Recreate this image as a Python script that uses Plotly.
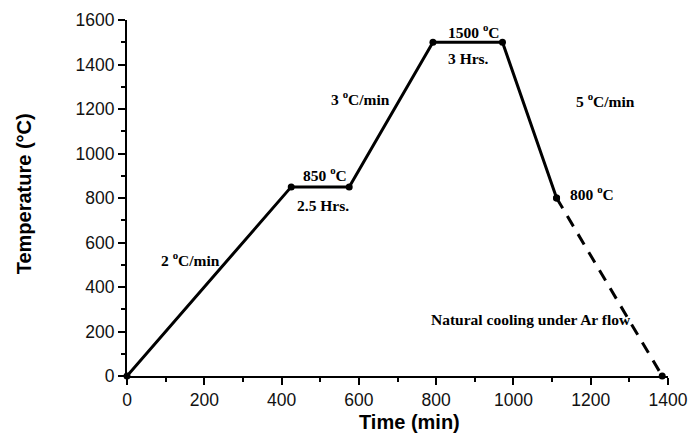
import plotly.graph_objects as go

# Data
time_solid = [0, 425, 575, 791.7, 971.7, 1111.7]
temp_solid = [0, 850, 850, 1500, 1500, 800]
time_dash = [1111.7, 1385]
temp_dash = [800, 0]

ann_text = ["2 ºC/min", "850 ºC", "2.5 Hrs.", "3 ºC/min", "1500 ºC", "3 Hrs.",
            "5 ºC/min", "800 ºC", "Natural cooling under Ar flow"]
ann_x = [165, 512, 507, 603, 898, 885, 1237, 1203, 1045]
ann_y = [528, 908, 768, 1249, 1550, 1425, 1240, 822, 252]

x_title = "Time (min)"
y_title = "Temperature (°C)"

fig = go.Figure()
fig.add_trace(go.Scatter(x=time_solid, y=temp_solid, mode="lines+markers",
                         line=dict(color="black", width=3),
                         marker=dict(color="black", size=7),
                         cliponaxis=False, showlegend=False))
fig.add_trace(go.Scatter(x=time_dash, y=temp_dash, mode="lines+markers",
                         line=dict(color="black", width=3, dash="12px,9px"),
                         marker=dict(color="black", size=7),
                         cliponaxis=False, showlegend=False))

for t, x, y in zip(ann_text, ann_x, ann_y):
    fig.add_annotation(x=x, y=y, text="<b>" + t.replace("º", "<sup>o</sup>") + "</b>",
                       showarrow=False, xanchor="center", yanchor="middle",
                       font=dict(family="Liberation Serif, Times New Roman, serif", size=15.5, color="black"))

title_font = dict(family="Liberation Sans, Arial, sans-serif", size=20, color="black")
fig.add_annotation(xref="paper", yref="paper", x=0.523, y=-0.129, text="<b>" + x_title + "</b>",
                   xanchor="center", yanchor="middle", showarrow=False, font=title_font)
fig.add_annotation(xref="paper", yref="paper", x=-0.19, y=0.511, text="<b>" + y_title + "</b>",
                   xanchor="center", yanchor="middle", textangle=-90, showarrow=False, font=title_font)

axis_common = dict(showline=True, linecolor="black", linewidth=2, ticks="outside",
                   ticklen=7, tickwidth=1.5, tickcolor="black", showgrid=False, zeroline=False,
                   automargin=False,
                   tickfont=dict(family="Liberation Sans, Arial, sans-serif", size=17.5, color="#111"),
                   minor=dict(ticks="outside", ticklen=4, tickwidth=1.5, tickcolor="black"))

fig.update_xaxes(range=[0, 1400], dtick=200, **axis_common)
fig.update_yaxes(range=[0, 1600], dtick=200, **axis_common)
fig.update_xaxes(minor_dtick=100)
fig.update_yaxes(minor_dtick=100)

fig.update_layout(width=688, height=427, margin=dict(l=119, r=28, t=12, b=59, autoexpand=False),
                  plot_bgcolor="white", paper_bgcolor="white")

fig.write_html("out.html")
